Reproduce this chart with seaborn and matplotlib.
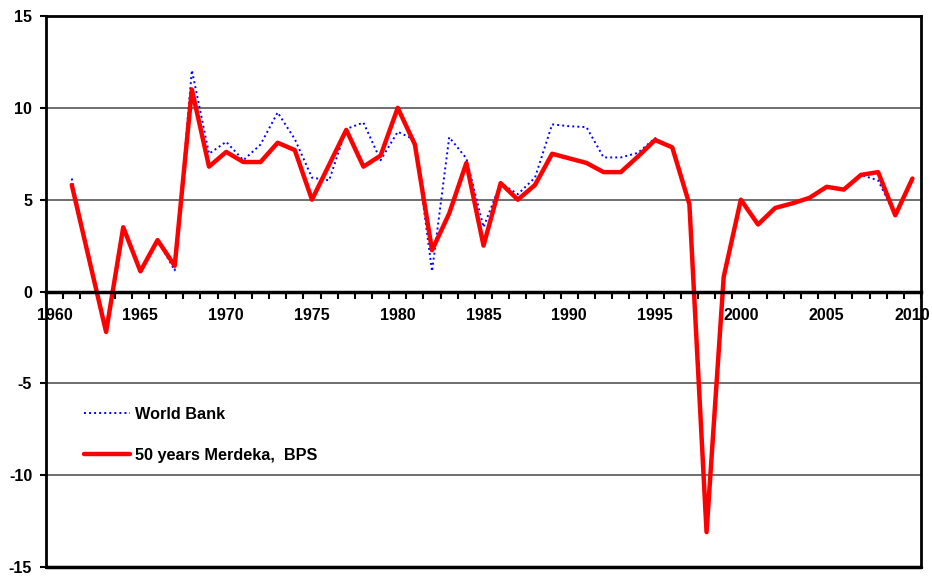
import numpy as np
import pandas as pd
import matplotlib
matplotlib.use("Agg")
import matplotlib.pyplot as plt
import seaborn as sns

# data
years = list(range(1961, 2011))
world_bank = [6.15, 1.8, -2.2, 3.5, 1.0, 2.8, 1.15, 12.05, 7.5, 8.15,
              7.15, 8.0, 9.75, 8.3, 6.2, 6.05, 8.85, 9.2, 7.15, 8.7,
              8.25, 1.1, 8.4, 7.25, 3.5, 5.9, 5.3, 6.2, 9.1, 9.0,
              8.95, 7.3, 7.3, 7.55, 8.35, 7.85, 4.75, -13.1, 0.8, 5.0,
              3.65, 4.55, 4.8, 5.1, 5.7, 5.55, 6.35, 6.05, 4.15, 6.15]
merdeka_bps = [5.8, 1.8, -2.2, 3.5, 1.1, 2.8, 1.4, 11.0, 6.8, 7.6,
               7.05, 7.05, 8.1, 7.7, 5.0, 6.9, 8.8, 6.8, 7.4, 10.0,
               8.0, 2.25, 4.25, 7.0, 2.5, 5.9, 5.0, 5.8, 7.5, 7.25,
               7.0, 6.5, 6.5, 7.35, 8.25, 7.85, 4.75, -13.1, 0.8, 5.0,
               3.65, 4.55, 4.8, 5.1, 5.7, 5.55, 6.35, 6.5, 4.15, 6.15]
label_years = [1960, 1965, 1970, 1975, 1980, 1985, 1990, 1995, 2000, 2005, 2010]
y_ticks = [-15, -10, -5, 0, 5, 10, 15]

df = pd.DataFrame({"year": years, "wb": world_bank, "bps": merdeka_bps})

sns.set_style("white")
plt.rcParams["font.family"] = ["Liberation Sans", "DejaVu Sans"]
plt.rcParams["font.weight"] = "bold"
plt.rcParams["axes.unicode_minus"] = False
plt.rcParams["text.color"] = "black"
plt.rcParams["xtick.color"] = "black"
plt.rcParams["ytick.color"] = "black"

fig = plt.figure(figsize=(9.32, 5.76), dpi=100)
ax = fig.add_axes([0.0494, 0.0156, 0.9388, 0.9566])

sns.lineplot(data=df, x="year", y="wb", ax=ax, color="#0000ff", lw=1.4,
             linestyle=(0, (1, 1.6)), label="World Bank")
sns.lineplot(data=df, x="year", y="bps", ax=ax, color="#ff0000", lw=3.2,
             label="50 years Merdeka,  BPS")

ax.set_xlim(1959.5, 2010.5)
ax.set_ylim(-15, 15)

# grid lines
for v in [-10, -5, 5, 10]:
    ax.axhline(v, color="#555555", lw=1.2, zorder=0)
ax.axhline(-15, color="black", lw=2.5, zorder=5, clip_on=False)

# spines
ax.spines["bottom"].set_position(("data", 0))
for s in ["left", "right", "top", "bottom"]:
    ax.spines[s].set_color("black")
    ax.spines[s].set_linewidth(2.0)
ax.spines["bottom"].set_linewidth(2.5)

# x ticks: marks at category boundaries, labels at category centres
ax.set_xticks(np.arange(1959.5, 2011, 1.0))
ax.set_xticklabels([])
ax.tick_params(axis="x", which="major", direction="out", length=5, width=1.5,
               color="black", bottom=True)
ax.set_xticks(label_years, minor=True)
ax.set_xticklabels([str(y) for y in label_years], minor=True,
                   fontsize=11.5, fontweight="bold", color="black")
ax.tick_params(axis="x", which="minor", length=0, pad=12)

ax.set_yticks(y_ticks)
ax.set_yticklabels([str(v) for v in y_ticks], fontsize=11.5, fontweight="bold",
                   color="black")
ax.tick_params(axis="y", direction="out", length=4, width=1.5, color="black",
               left=True, pad=6)

ax.set_xlabel("")
ax.set_ylabel("")

leg = ax.legend(loc="center left", bbox_to_anchor=(0.027, 0.24), frameon=False,
                handlelength=2.8, labelspacing=1.6, handletextpad=0.3,
                prop={"weight": "bold", "size": 11.7})
for t in leg.get_texts():
    t.set_color("black")

fig.savefig("out.png", dpi=100)
